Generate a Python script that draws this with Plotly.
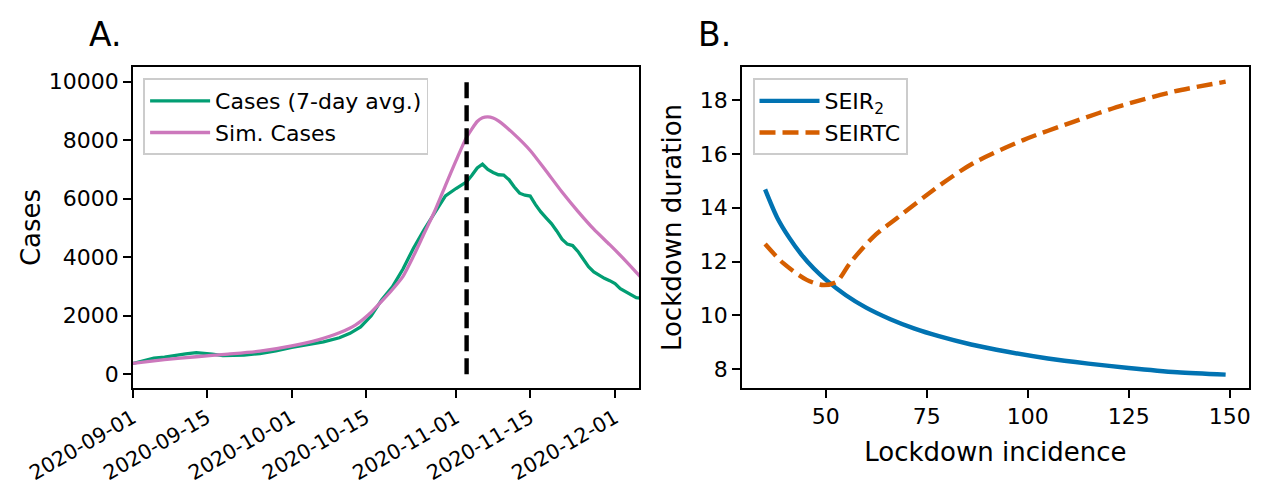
import pandas as pd
import plotly.graph_objects as go

# ---------------- Data: panel A ----------------
start_date = "2020-09-01"
cases_days = [0, 2, 4, 6, 8, 10, 12, 13, 15, 17, 19, 21, 24, 27, 30, 33, 36, 39, 41, 43,
              45, 47, 49, 51, 53, 55, 57, 59, 61, 63, 64, 65, 66, 67, 68, 69, 70, 71, 72,
              73, 74, 75, 76, 77, 78, 79, 80, 81, 82, 83, 84, 85, 86, 87, 88, 89, 90, 91,
              92, 93, 94, 95, 96]
cases_avg = [370, 470, 550, 590, 650, 700, 740, 730, 690, 640, 640, 660, 710, 800, 920,
             1010, 1110, 1250, 1400, 1620, 2000, 2550, 2990, 3600, 4320, 4950, 5550, 6100,
             6350, 6580, 6800, 7050, 7180, 7000, 6900, 6820, 6810, 6650, 6400, 6190, 6120,
             6090, 5800, 5550, 5350, 5150, 4900, 4620, 4450, 4400, 4200, 3950, 3680, 3500,
             3380, 3280, 3200, 3100, 2930, 2820, 2700, 2620, 2598]
sim_days = [0, 6, 12, 18, 24, 30, 35, 39, 42, 45, 47, 49, 51, 53, 55, 57, 59, 61, 63, 65,
            66, 67, 68, 69, 72, 75, 78, 81, 84, 87, 90, 93, 96]
sim_cases = [376, 500, 600, 690, 790, 970, 1180, 1420, 1680, 2120, 2500, 2900, 3350, 4050,
             4820, 5580, 6450, 7300, 8100, 8640, 8770, 8800, 8760, 8660, 8200, 7650, 6950,
             6230, 5570, 4960, 4430, 3880, 3290]
lockdown_date = "2020-11-03"
lockdown_line_y = [0, 10000]
date_ticks = ["2020-09-01", "2020-09-15", "2020-10-01", "2020-10-15",
              "2020-11-01", "2020-11-15", "2020-12-01"]
cases_yticks = [0, 2000, 4000, 6000, 8000, 10000]

# ---------------- Data: panel B ----------------
seir2_x = [35, 38, 41, 44, 47, 50, 55, 60, 66, 72, 78, 86, 95, 105, 115, 125, 137, 149]
seir2_y = [14.68, 13.63, 12.88, 12.26, 11.75, 11.33, 10.75, 10.29, 9.86, 9.51, 9.23, 8.92,
           8.65, 8.40, 8.21, 8.05, 7.89, 7.80]
seirtc_x = [35, 39.5, 45.3, 49.4, 52.7, 56.0, 61.8, 67.6, 78.3, 86.5, 98.9, 111.3,
            123.7, 136.1, 149]
seirtc_y = [12.65, 11.94, 11.32, 11.13, 11.25, 11.94, 12.92, 13.61, 14.84, 15.65, 16.51,
            17.19, 17.81, 18.31, 18.68]
b_xticks = [50, 75, 100, 125, 150]
b_yticks = [8, 10, 12, 14, 16, 18]

# ---------------- Figure ----------------
W, H = 1271, 486
FONT = "DejaVu Sans"
t0 = pd.Timestamp(start_date)
cases_dates = [t0 + pd.Timedelta(days=d) for d in cases_days]
sim_dates = [t0 + pd.Timedelta(days=d) for d in sim_days]

fig = go.Figure()
fig.add_trace(go.Scatter(x=cases_dates, y=cases_avg, mode="lines", name="Cases (7-day avg.)",
                         line=dict(color="#029e73", width=3.3), xaxis="x", yaxis="y",
                         legend="legend"))
fig.add_trace(go.Scatter(x=sim_dates, y=sim_cases, mode="lines", name="Sim. Cases",
                         line=dict(color="#cc78bc", width=3.3, shape="spline", smoothing=0.6),
                         xaxis="x", yaxis="y", legend="legend"))
fig.add_trace(go.Scatter(x=[lockdown_date, lockdown_date], y=lockdown_line_y, mode="lines",
                         showlegend=False, line=dict(color="black", width=4.4, dash="16px,7px"),
                         xaxis="x", yaxis="y"))
fig.add_trace(go.Scatter(x=seir2_x, y=seir2_y, mode="lines", name="SEIR<sub>2</sub>",
                         line=dict(color="#0173b2", width=4.4, shape="spline", smoothing=0.8),
                         xaxis="x2", yaxis="y2", legend="legend2"))
fig.add_trace(go.Scatter(x=seirtc_x, y=seirtc_y, mode="lines", name="SEIRTC",
                         line=dict(color="#d55e00", width=4.4, dash="16px,7px", shape="spline",
                                   smoothing=0.8),
                         xaxis="x2", yaxis="y2", legend="legend2"))

ydom = [1 - 388.3 / H, 1 - 66.7 / H]
axis_common = dict(showline=True, linecolor="black", linewidth=1.8, mirror=True,
                   ticks="outside", ticklen=7.7, tickwidth=1.8, tickcolor="black",
                   showgrid=False, zeroline=False, automargin=False)
tick_font = dict(family=FONT, size=22, color="black")
title_font = dict(family=FONT, size=26, color="black")

fig.update_layout(
    width=W, height=H, margin=dict(l=0, r=0, t=0, b=0),
    paper_bgcolor="white", plot_bgcolor="white",
    font=dict(family=FONT, color="black"),
    xaxis=dict(domain=[132.7 / W, 639.3 / W], range=["2020-09-01", "2020-12-05 14:00"],
               tickvals=date_ticks, ticktext=date_ticks, tickangle=-30, anchor="y",
               tickfont=dict(family=FONT, size=20.5, color="black"), **axis_common),
    yaxis=dict(domain=ydom, range=[-478, 10513], tickvals=cases_yticks,
               ticktext=[str(v) for v in cases_yticks], anchor="x", tickfont=tick_font,
               title=dict(text="Cases", font=title_font, standoff=1), **axis_common),
    xaxis2=dict(domain=[741.7 / W, 1249 / W], range=[29.21, 154.78], tickvals=b_xticks,
                anchor="y2", tickfont=tick_font,
                title=dict(text="Lockdown incidence", font=title_font, standoff=15),
                **axis_common),
    yaxis2=dict(domain=ydom, range=[7.294, 19.236], tickvals=b_yticks, anchor="x2",
                tickfont=tick_font,
                title=dict(text="Lockdown duration", font=title_font, standoff=11),
                **axis_common),
    legend=dict(x=143.3 / W, y=1 - 78.3 / H, xanchor="left", yanchor="top",
                bgcolor="rgba(255,255,255,0.8)", bordercolor="#cccccc", borderwidth=1.8,
                font=dict(family=FONT, size=22, color="black"), itemwidth=60),
    legend2=dict(x=752.7 / W, y=1 - 78.3 / H, xanchor="left", yanchor="top",
                 bgcolor="rgba(255,255,255,0.8)", bordercolor="#cccccc", borderwidth=1.8,
                 font=dict(family=FONT, size=22, color="black"), itemwidth=60),
    annotations=[
        dict(text="A.", x=87 / W, y=1 - 34 / H, xref="paper", yref="paper",
             xanchor="left", yanchor="middle", showarrow=False,
             font=dict(family=FONT, size=33, color="black")),
        dict(text="B.", x=696 / W, y=1 - 34 / H, xref="paper", yref="paper",
             xanchor="left", yanchor="middle", showarrow=False,
             font=dict(family=FONT, size=33, color="black")),
    ],
)

fig.write_html("out.html", config={"displayModeBar": False},
               post_script="document.body.style.margin='0';document.body.style.padding='0';")
